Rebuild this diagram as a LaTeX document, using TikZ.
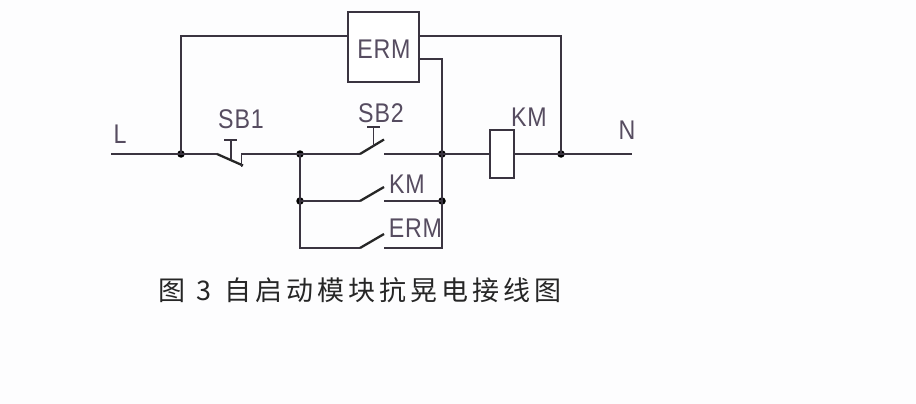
\documentclass[tikz,border=0pt]{standalone}
\usepackage{fontspec}
\setmainfont{Liberation Sans}
\newfontfamily\labf[FakeStretch=0.86,LetterSpace=3]{Liberation Sans}
\newfontfamily\cjk[LetterSpace=15]{Noto Sans CJK SC}
\definecolor{ink}{HTML}{3A3440}
\definecolor{txt}{HTML}{564C60}
\definecolor{paper}{HTML}{FDFDFE}
\tikzset{
  wire/.style={draw=ink,line width=1.3pt},
  blade/.style={draw=black!85,line width=2.3pt},
  dotj/.style={circle,fill=black,inner sep=0pt,minimum size=7.5pt},
  lab/.style={inner sep=0pt,text=txt,font=\labf\fontsize{27}{27}\selectfont},
  boxn/.style={draw=ink,line width=1.3pt,fill=white,inner sep=0pt}
}
\begin{document}
\begin{tikzpicture}[x=1pt,y=-1pt]
\useasboundingbox (0,0) rectangle (916,404);
\fill[paper] (0,0) rectangle (916,404);
% nodes
\node[boxn,minimum width=71pt,minimum height=70pt] (erm) at (383.5,47) {};
\node[boxn,minimum width=24pt,minimum height=48pt] (coil) at (502,154) {};
\node[dotj] (j1) at (181,154) {};
\node[dotj] (j2) at (300,154) {};
\node[dotj] (j3) at (300,201) {};
\node[dotj] (j4) at (442,154) {};
\node[dotj] (j5) at (442,201) {};
\node[dotj] (j6) at (561,154) {};
\coordinate (Lend) at (111,154);
\coordinate (Nend) at (632,154);
\coordinate (e1) at (348,36);
\coordinate (e2) at (419,36);
\coordinate (e3) at (419,59);
\coordinate (c1) at (490,154);
\coordinate (c2) at (514,154);
% SB1
\coordinate (s1a) at (217,154);
\coordinate (s1b) at (243,165.5);
\coordinate (s1c) at (243,154);
% SB2
\coordinate (s2a) at (360,154);
\coordinate (s2b) at (384,139.5);
\coordinate (s2c) at (384,154);
% KM contact
\coordinate (s3a) at (360,201);
\coordinate (s3b) at (384,187);
\coordinate (s3c) at (384,201);
% ERM contact
\coordinate (s4a) at (360,248);
\coordinate (s4b) at (384,234);
\coordinate (s4c) at (384,248);
% wires
\draw[wire] (Lend) -- (j1.center) -- (s1a);
\draw[wire] (j1.center) |- (e1);
\draw[wire] (e2) -| (j6.center);
\draw[wire] (e3) -| (j4.center);
\draw[wire] (j4.center) -- (j5.center) |- (s4c);
\draw[wire] (s1c) -- (j2.center) -- (s2a);
\draw[wire] (s2c) -- (j4.center) -- (c1);
\draw[wire] (c2) -- (j6.center) -- (Nend);
\draw[wire] (j2.center) -- (j3.center) -- (s3a);
\draw[wire] (j3.center) |- (s4a);
\draw[wire] (s3c) -- (j5.center);
% blades
\draw[blade] (s1a) -- (s1b);
\draw[wire] (s1c) -- (241.5,154) -- (241.5,167);
\draw[blade] (s2a) -- (s2b);
\draw[blade] (s3a) -- (s3b);
\draw[blade] (s4a) -- (s4b);
% push buttons
\draw[wire] (224,140) -- (237,140) (231,140) -- (231,159);
\draw[wire] (367,127) -- (380,127) (373.5,127) -- (373.5,146);
% labels
\node[lab] (tL) at (120,134) {L};
\node[lab] (tSB1) at (241,119) {SB1};
\node[lab] (tSB2) at (381,113) {SB2};
\node[lab] (tERM) at (384,49) {ERM};
\node[lab] (tKM) at (529,117.5) {KM};
\node[lab] (tN) at (627,130) {N};
\node[lab] (tKM2) at (407,184.5) {KM};
\node[lab] (tERM2) at (415.5,228) {ERM};
\node[anchor=west,inner sep=0pt,text=black!85,font=\fontsize{27}{27}\selectfont] (cap) at (158,290.5) {\cjk 图\hspace{11pt}3\hspace{13pt}自启动模块抗晃电接线图};
\end{tikzpicture}
\end{document}
